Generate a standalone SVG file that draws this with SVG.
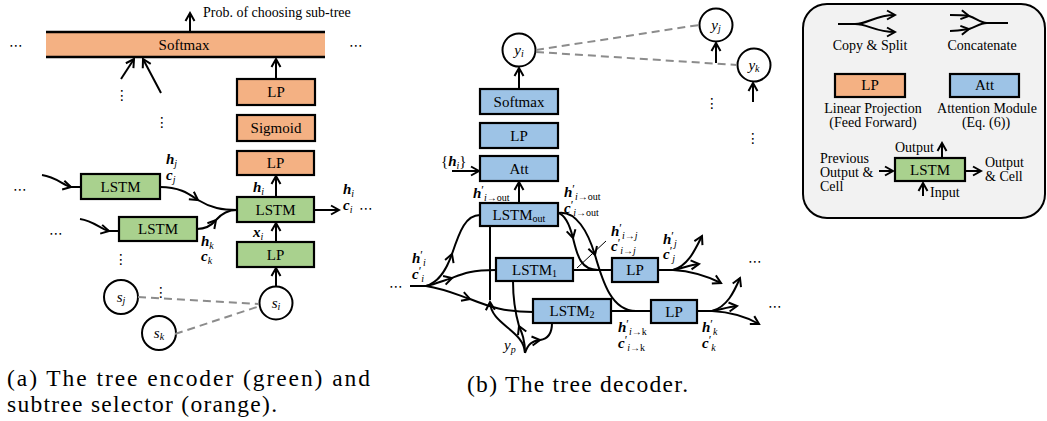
<svg xmlns="http://www.w3.org/2000/svg" width="1047" height="421" viewBox="0 0 1047 421">
<style>
  .bx{stroke:#000;stroke-width:2.2}
  .or{fill:#F4B183}
  .gr{fill:#A9D18E}
  .bl{fill:#9DC3E6}
  .t{font-family:"Liberation Serif",serif;font-size:15px;text-anchor:middle;fill:#000}
  .lg{font-family:"Liberation Serif",serif;font-size:14px;fill:#000}
  .cap{font-family:"Liberation Serif",serif;font-size:23.5px;fill:#000}
  .m{font-family:"Liberation Serif",serif;font-size:15px;fill:#000}
  .b{font-weight:bold;font-style:italic}
  .i{font-style:italic}
  .sb{font-size:10px;font-style:italic}
  .pr{font-size:12px}
  .ln{fill:none;stroke:#000;stroke-width:2}
  .ar{fill:none;stroke:#000;stroke-width:2;marker-end:url(#ah)}
  .dash{fill:none;stroke:#8c8c8c;stroke-width:2;stroke-dasharray:8 5}
  .cir{fill:#fff;stroke:#000;stroke-width:2}
  .dots{font-family:"DejaVu Sans",sans-serif;font-size:14px;text-anchor:middle;fill:#000}
</style>
<defs>
  <marker id="ah" viewBox="0 0 12 12" refX="10" refY="6" markerWidth="12" markerHeight="12" markerUnits="userSpaceOnUse" orient="auto">
    <path d="M2,1.5 L10,6 L2,10.5" fill="none" stroke="#000" stroke-width="2"/>
  </marker>
</defs>

<!-- ===== (a) tree encoder and subtree selector ===== -->
<g id="enc-softmax">
  <rect x="46" y="32" width="279" height="25" class="or"/>
  <line x1="46" y1="32" x2="325" y2="32" stroke="#000" stroke-width="2.4"/>
  <line x1="46" y1="57" x2="325" y2="57" stroke="#000" stroke-width="2.4"/>
  <text x="184" y="50" class="t">Softmax</text>
</g>
<text x="203" y="17" class="lg" font-size="13.5">Prob. of choosing sub-tree</text>
<text x="16" y="50" class="dots">⋯</text>
<text x="356" y="50" class="dots">⋯</text>
<text x="122" y="100" class="dots">⋮</text>
<text x="162" y="127" class="dots">⋮</text>

<g id="enc-lp-top"><rect x="237" y="79" width="78" height="26" class="bx or"/><text x="276" y="97" class="t">LP</text></g>
<g id="enc-sigmoid"><rect x="237" y="115" width="78" height="26" class="bx or"/><text x="276" y="133" class="t">Sigmoid</text></g>
<g id="enc-lp-sel"><rect x="237" y="151" width="77" height="24" class="bx or"/><text x="275.5" y="168" class="t">LP</text></g>
<g id="enc-lstm-i"><rect x="237" y="197" width="77" height="25" class="bx gr"/><text x="275.5" y="215" class="t">LSTM</text></g>
<g id="enc-lp-in"><rect x="237" y="242" width="77" height="25" class="bx gr"/><text x="275.5" y="260" class="t">LP</text></g>
<g id="enc-lstm-j"><rect x="81" y="174" width="79" height="25" class="bx gr"/><text x="120.5" y="192" class="t">LSTM</text></g>
<g id="enc-lstm-k"><rect x="119" y="217" width="78" height="24" class="bx gr"/><text x="158" y="234" class="t">LSTM</text></g>
<g id="enc-si"><circle cx="276" cy="303" r="16.5" class="cir"/><text x="276" y="308" class="m i" text-anchor="middle">s<tspan class="sb" dy="2">i</tspan></text></g>
<g id="enc-sj"><circle cx="121" cy="297" r="17" class="cir"/><text x="121" y="302" class="m i" text-anchor="middle">s<tspan class="sb" dy="2">j</tspan></text></g>
<g id="enc-sk"><circle cx="159" cy="333" r="17" class="cir"/><text x="159" y="338" class="m i" text-anchor="middle">s<tspan class="sb" dy="2">k</tspan></text></g>

<text x="20" y="194" class="dots">⋯</text>
<text x="56" y="238" class="dots">⋯</text>
<text x="121" y="264" class="dots">⋮</text>
<text x="161" y="297" class="dots">⋮</text>

<!-- encoder state labels (two-line h / c) -->
<text class="m"><tspan x="166" y="164" class="b">h</tspan><tspan class="sb" dy="3">j</tspan><tspan x="166" y="180" class="b">c</tspan><tspan class="sb" dy="3">j</tspan></text>
<text class="m"><tspan x="201" y="246" class="b">h</tspan><tspan class="sb" dy="3">k</tspan><tspan x="201" y="261" class="b">c</tspan><tspan class="sb" dy="3">k</tspan></text>
<text x="253" y="192" class="m"><tspan class="b">h</tspan><tspan class="sb" dy="3">i</tspan></text>
<text x="253" y="237" class="m"><tspan class="b">x</tspan><tspan class="sb" dy="3">i</tspan></text>
<text class="m"><tspan x="343" y="194" class="b">h</tspan><tspan class="sb" dy="3">i</tspan><tspan x="343" y="210" class="b">c</tspan><tspan class="sb" dy="3">i</tspan></text>
<text x="366" y="213" class="dots" font-size="12">⋯</text>

<!-- ===== (b) tree decoder ===== -->
<g id="dec-yi"><circle cx="519" cy="50" r="16.5" class="cir"/><text x="519" y="55" class="m i" text-anchor="middle">y<tspan class="sb" dy="2">i</tspan></text></g>
<g id="dec-yj"><circle cx="716" cy="25" r="16.5" class="cir"/><text x="716" y="30" class="m i" text-anchor="middle">y<tspan class="sb" dy="2">j</tspan></text></g>
<g id="dec-yk"><circle cx="754" cy="65" r="16.5" class="cir"/><text x="754" y="70" class="m i" text-anchor="middle">y<tspan class="sb" dy="2">k</tspan></text></g>
<g id="dec-softmax"><rect x="480" y="89" width="78" height="25" class="bx bl"/><text x="519" y="107" class="t">Softmax</text></g>
<g id="dec-lp"><rect x="480" y="123" width="78" height="25" class="bx bl"/><text x="519" y="141" class="t">LP</text></g>
<g id="dec-att"><rect x="480" y="156" width="78" height="25" class="bx bl"/><text x="519" y="174" class="t">Att</text></g>
<g id="dec-lstm-out"><rect x="480" y="203" width="78" height="23" class="bx bl"/><text x="519" y="220" class="t">LSTM<tspan font-size="10" dy="2">out</tspan></text></g>
<g id="dec-lstm-1"><rect x="496" y="258" width="77" height="23" class="bx bl"/><text x="534.5" y="275" class="t">LSTM<tspan font-size="10" dy="2">1</tspan></text></g>
<g id="dec-lstm-2"><rect x="533" y="299" width="78" height="24" class="bx bl"/><text x="572" y="316" class="t">LSTM<tspan font-size="10" dy="2">2</tspan></text></g>
<g id="dec-lp-j"><rect x="612" y="258" width="46" height="24" class="bx bl"/><text x="635" y="275" class="t">LP</text></g>
<g id="dec-lp-k"><rect x="651" y="300" width="46" height="23" class="bx bl"/><text x="674" y="317" class="t">LP</text></g>

<text x="712" y="108" class="dots">⋮</text>
<text x="753" y="143" class="dots">⋮</text>
<text x="396" y="291" class="dots">⋯</text>
<text x="755" y="266" class="dots">⋯</text>
<text x="775" y="311" class="dots">⋯</text>

<!-- decoder state labels -->
<text x="441" y="166" class="m">{<tspan class="b">h</tspan><tspan class="sb" dy="3">i</tspan><tspan dy="-3">}</tspan></text>
<text x="473" y="198" class="m"><tspan class="b">h</tspan><tspan class="pr" dy="-4">′</tspan><tspan class="sb" dy="7">i</tspan><tspan font-size="10">→out</tspan></text>
<text class="m"><tspan x="564" y="197" class="b">h</tspan><tspan class="pr" dy="-4">′</tspan><tspan class="sb" dy="7">i</tspan><tspan font-size="10">→out</tspan><tspan x="564" y="213" class="b">c</tspan><tspan class="pr" dy="-4">′</tspan><tspan class="sb" dy="7">i</tspan><tspan font-size="10">→out</tspan></text>
<text class="m"><tspan x="412" y="263" class="b">h</tspan><tspan class="pr" dy="-4">′</tspan><tspan class="sb" dy="7">i</tspan><tspan x="412" y="279" class="b">c</tspan><tspan class="pr" dy="-4">′</tspan><tspan class="sb" dy="7">i</tspan></text>
<text class="m"><tspan x="611" y="236" class="b">h</tspan><tspan class="pr" dy="-4">′</tspan><tspan class="sb" dy="7">i</tspan><tspan font-size="10">→</tspan><tspan class="sb">j</tspan><tspan x="611" y="251" class="b">c</tspan><tspan class="pr" dy="-4">′</tspan><tspan class="sb" dy="7">i</tspan><tspan font-size="10">→</tspan><tspan class="sb">j</tspan></text>
<text class="m"><tspan x="663" y="244" class="b">h</tspan><tspan class="pr" dy="-4">′</tspan><tspan class="sb" dy="7">j</tspan><tspan x="663" y="259" class="b">c</tspan><tspan class="pr" dy="-4">′</tspan><tspan class="sb" dy="7">j</tspan></text>
<text class="m"><tspan x="618" y="332" class="b">h</tspan><tspan class="pr" dy="-4">′</tspan><tspan class="sb" dy="7">i</tspan><tspan font-size="10">→k</tspan><tspan x="618" y="348" class="b">c</tspan><tspan class="pr" dy="-4">′</tspan><tspan class="sb" dy="7">i</tspan><tspan font-size="10">→k</tspan></text>
<text class="m"><tspan x="702" y="332" class="b">h</tspan><tspan class="pr" dy="-4">′</tspan><tspan class="sb" dy="7">k</tspan><tspan x="702" y="348" class="b">c</tspan><tspan class="pr" dy="-4">′</tspan><tspan class="sb" dy="7">k</tspan></text>
<text x="504" y="350" class="m i">y<tspan class="sb" dy="3">p</tspan></text>

<!-- ===== connectors ===== -->
<g id="connectors">
  <!-- encoder -->
  <path class="ar" d="M190,32 L190,13"/>
  <path class="ar" d="M121,79 L134,59"/>
  <path class="ar" d="M161,93 L143,59"/>
  <path class="ar" d="M276,79 L276,59"/>
  <path class="ar" d="M276,197 L276,176"/>
  <path class="ar" d="M276,242 L276,223"/>
  <path class="ar" d="M276,287 L276,268"/>
  <path class="ar" d="M314,210 L339,210"/>
  <path class="ar" d="M42,175 C56,177 63,185 71,187"/><path class="ln" d="M71,187 L81,187"/>
  <path class="ar" d="M80,219 C94,221 100,229 109,231"/><path class="ln" d="M109,231 L119,231"/>
  <path class="ar" d="M160,187 C180,187 189,194 198,200"/><path class="ln" d="M198,200 C211,208 222,210 237,210"/>
  <path class="ar" d="M197,229 C206,229 211,226 216,220"/><path class="ln" d="M216,220 C222,213 228,210 237,210"/>
  <path class="dash" d="M138,297 L259,304"/>
  <path class="dash" d="M175,334 L260,306"/>

  <!-- decoder vertical stack -->
  <path class="ar" d="M519,89 L519,68"/>
  <path class="ar" d="M519,203 L519,182"/>
  <path class="ar" d="M452,171 L479,171"/>
  <path class="ar" d="M716,63 L716,43"/>
  <path class="ar" d="M753,102 L753,83"/>
  <path class="dash" d="M536,50 L699,25"/>
  <path class="dash" d="M536,52 L737,65"/>

  <!-- incoming state split three ways -->
  <path class="ln" d="M410,286 L426,286"/>
  <path class="ar" d="M426,286 C440,282 447,268 452,254"/><path class="ln" d="M452,254 C460,230 466,215 480,215"/>
  <path class="ar" d="M426,286 C436,284 442,281 452,278"/><path class="ln" d="M452,278 C462,274 470,270 496,270"/>
  <path class="ar" d="M426,286 C445,289 458,295 470,299"/><path class="ln" d="M470,299 C490,307 505,312 533,312"/>

  <!-- parent symbol y_p split three ways -->
  <path class="ln" d="M490,226 L490,300"/>
  <path class="ar" d="M525,353 C524,330 491,325 490,302"/>
  <path class="ar" d="M525,353 C525,340 522,333 519,326"/><path class="ln" d="M519,326 C515,312 513,300 513,281"/>
  <path class="ar" d="M525,353 C528,344 532,341 540,340"/><path class="ln" d="M540,340 C548,339 552,333 552,323"/>

  <!-- LSTM_out state copied to both children -->
  <path class="ar" d="M558,213 C566,215 570,226 573,238"/><path class="ln" d="M573,238 C577,254 580,270 598,270"/>
  <path class="ar" d="M558,213 C576,210 588,232 595,255"/><path class="ln" d="M595,255 C603,283 612,311 636,311"/>
  <path class="ln" d="M573,270 L612,270"/>
  <path class="ln" d="M611,311 L651,311"/>
  <path fill="none" stroke="#000" stroke-width="1" d="M577,268 L606,241"/>

  <!-- child outputs -->
  <path class="ln" d="M658,270 L673,270"/>
  <path class="ar" d="M673,270 C688,266 695,250 702,236"/>
  <path class="ar" d="M673,270 C683,268 690,265 699,264"/>
  <path class="ar" d="M673,270 C690,271 705,275 721,283"/>
  <path class="ln" d="M697,311 L712,311"/>
  <path class="ar" d="M712,311 C727,307 734,292 740,278"/>
  <path class="ar" d="M712,311 C722,309 729,307 737,306"/>
  <path class="ar" d="M712,311 C730,312 745,316 759,324"/>
</g>

<!-- ===== legend ===== -->
<g id="legend">
  <rect x="803" y="4" width="242" height="214" rx="24" fill="#F2F2F2" stroke="#000" stroke-width="2"/>
  <path class="ln" d="M838,24 L855,24"/>
  <path class="ar" d="M855,24 C868,24 875,15 895,15"/>
  <path class="ar" d="M855,24 C868,24 875,32 895,32"/>
  <text x="870" y="50" class="lg" text-anchor="middle">Copy &amp; Split</text>
  <path class="ar" d="M950,15 C958,15 963,15 969,16"/><path class="ln" d="M969,16 C976,18 980,23 987,23"/>
  <path class="ar" d="M950,31 C958,31 963,30 969,29"/><path class="ln" d="M969,29 C976,27 980,23 987,23"/>
  <path class="ln" d="M987,23 L1008,23"/>
  <text x="982" y="50" class="lg" text-anchor="middle">Concatenate</text>
  <rect x="835" y="74" width="70" height="23" class="bx or"/><text x="870" y="90" class="t" font-size="14">LP</text>
  <rect x="950" y="74" width="69" height="23" class="bx bl"/><text x="984.5" y="90" class="t" font-size="14">Att</text>
  <text class="lg" text-anchor="middle"><tspan x="873" y="113">Linear Projection</tspan><tspan x="873" y="127">(Feed Forward)</tspan></text>
  <text class="lg" text-anchor="middle"><tspan x="987" y="113">Attention Module</tspan><tspan x="986" y="127">(Eq. (6))</tspan></text>
  <rect x="895" y="158" width="70" height="23" class="bx gr"/><text x="930" y="175" class="t" font-size="14">LSTM</text>
  <text x="895" y="152" class="lg">Output</text>
  <path class="ar" d="M942,158 L942,143"/>
  <text class="lg"><tspan x="820" y="163">Previous</tspan><tspan x="820" y="177">Output &amp;</tspan><tspan x="820" y="191">Cell</tspan></text>
  <path class="ar" d="M879,171 L893,171"/>
  <path class="ar" d="M965,171 L981,171"/>
  <text class="lg"><tspan x="985" y="167">Output</tspan><tspan x="985" y="181">&amp; Cell</tspan></text>
  <path class="ar" d="M923,196 L923,183"/>
  <text x="930" y="197" class="lg">Input</text>
</g>

<!-- captions -->
<text x="7" y="386" class="cap" textLength="363" lengthAdjust="spacing">(a) The tree encoder (green) and</text>
<text x="7" y="412" class="cap" textLength="270" lengthAdjust="spacing">subtree selector (orange).</text>
<text x="467" y="392" class="cap" textLength="221" lengthAdjust="spacing">(b) The tree decoder.</text>
</svg>
